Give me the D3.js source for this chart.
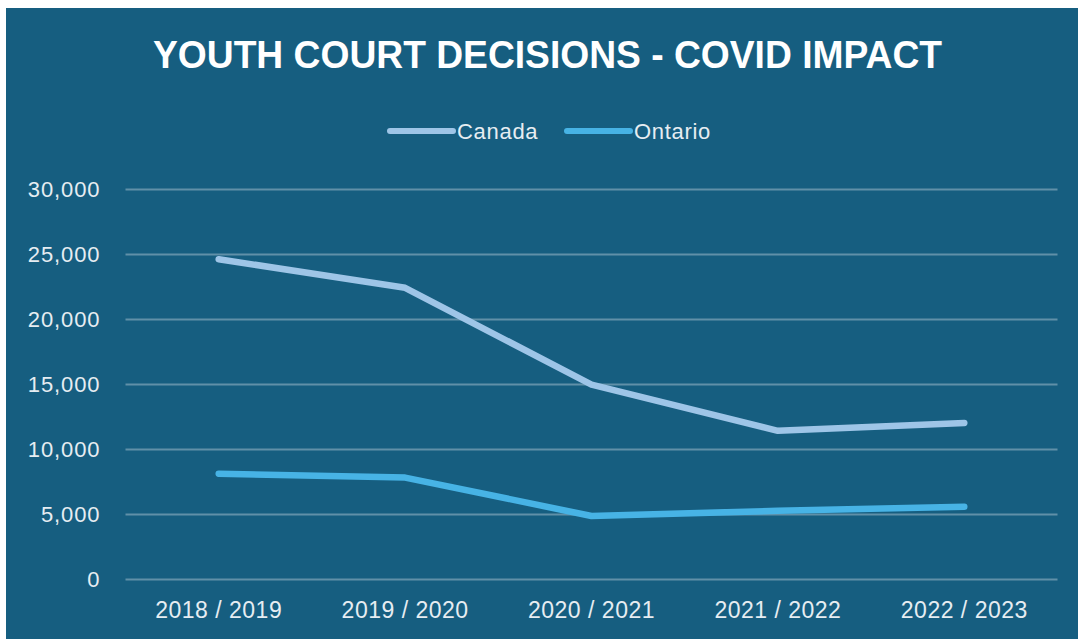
<!DOCTYPE html>
<html lang="en">
<head>
  <meta charset="UTF-8">
  <title>Youth court decisions - covid impact</title>
  <style>
    body {
      margin: 0;
      background-color: #fff;
    }

    .title {
      fill: #fff;
      font-family: "Liberation Sans Narrow", "Liberation Sans", Arial, sans-serif;
      font-weight: bold;
      font-size: 38px;
      text-anchor: middle;
    }

    .legend-label, .tick text {
      fill: #e6edf2;
      font-family: "Liberation Sans", Arial, sans-serif;
      font-size: 22px;
    }

    .x-axis .tick text {
      font-size: 23px;
    }

    .grid line {
      stroke: #6090a8;
      stroke-width: 1.8;
    }

    .series {
      fill: none;
      stroke-width: 6.5;
      stroke-linecap: round;
      stroke-linejoin: round;
    }
  </style>
</head>
<body>
  <script src="https://d3js.org/d3.v7.min.js"></script>
  <script>
    var years = ['2018 / 2019', '2019 / 2020', '2020 / 2021', '2021 / 2022', '2022 / 2023'];
    var canada = [24600, 22400, 14950, 11400, 12000];
    var ontario = [8100, 7800, 4850, 5250, 5550];
    var yTicks = [0, 5000, 10000, 15000, 20000, 25000, 30000];
    var seriesNames = ['Canada', 'Ontario'];
    var seriesColors = ['#9ec5e7', '#47b3e5'];

    var width = 1078,
      height = 639;

    var svg = d3.select('body').append('svg')
      .attr('width', width)
      .attr('height', height);

    // chart area background
    svg.append('rect')
      .attr('x', 6)
      .attr('y', 8)
      .attr('width', width - 6)
      .attr('height', height - 8)
      .attr('fill', '#165e80');

    var x = d3.scaleBand()
      .domain(years)
      .range([125.5, 1057.5]);

    var y = d3.scaleLinear()
      .domain([0, 30000])
      .range([579, 189]);

    svg.append('text')
      .attr('class', 'title')
      .attr('x', 547.5)
      .attr('y', 68)
      .attr('textLength', 789)
      .attr('lengthAdjust', 'spacingAndGlyphs')
      .text('YOUTH COURT DECISIONS - COVID IMPACT');

    // gridlines + y labels
    var yAxis = svg.append('g')
      .attr('class', 'grid')
      .attr('transform', 'translate(125.5,0)')
      .call(d3.axisLeft(y)
        .tickValues(yTicks)
        .tickFormat(d3.format(','))
        .tickSize(-(1057.5 - 125.5))
        .tickPadding(25));
    yAxis.select('.domain').remove();
    yAxis.selectAll('.tick text')
      .attr('dy', '0.36em')
      .style('letter-spacing', '0.9px');

    // x labels
    var xAxis = svg.append('g')
      .attr('class', 'x-axis')
      .attr('transform', 'translate(0,579)')
      .call(d3.axisBottom(x).tickSize(0).tickPadding(23));
    xAxis.select('.domain').remove();
    xAxis.selectAll('.tick text')
      .attr('dy', '0.71em')
      .style('letter-spacing', '0.5px');

    var line = d3.line()
      .x(function(d, i) { return x(years[i]) + x.bandwidth() / 2; })
      .y(function(d) { return y(d); });

    [canada, ontario].forEach(function(values, i) {
      svg.append('path')
        .datum(values)
        .attr('class', 'series')
        .attr('stroke', seriesColors[i])
        .attr('d', line);
    });

    // legend
    var legendX = [390, 567];
    var legend = svg.selectAll('.legend')
      .data(seriesNames)
      .enter().append('g')
      .attr('class', 'legend')
      .attr('transform', function(d, i) { return 'translate(' + legendX[i] + ',131)'; });

    legend.append('line')
      .attr('x1', 0)
      .attr('x2', 63)
      .attr('stroke', function(d, i) { return seriesColors[i]; })
      .attr('stroke-width', 6)
      .attr('stroke-linecap', 'round');

    legend.append('text')
      .attr('class', 'legend-label')
      .attr('x', 67)
      .attr('dy', '0.36em')
      .style('letter-spacing', '0.7px')
      .text(function(d) { return d; });
  </script>
</body>
</html>
